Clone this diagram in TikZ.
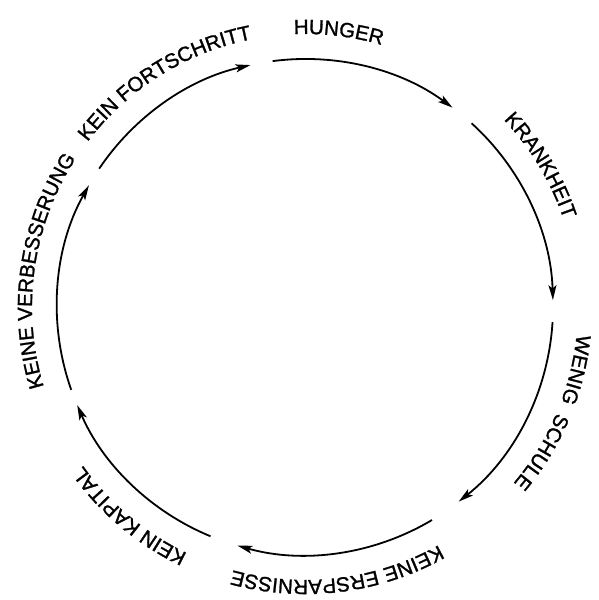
\documentclass[tikz,border=0pt]{standalone}
\usepackage{fontspec}
\setmainfont{Liberation Sans}
\newfontfamily\lblfam{Liberation Sans}[FakeBold=1.3]
\usetikzlibrary{arrows.meta,decorations.text}
\newcommand{\lblfont}{\lblfam\fontsize{20.5}{24}\selectfont}
\tikzset{
  cyclearc/.style={line width=1.8pt, -{Stealth[length=15pt,width=8pt,inset=3.5pt]}},
  cyclelabel/.style={decorate, decoration={text along path, text align=center,
    text={|\lblfont|#1}}}
}
\begin{document}
\begin{tikzpicture}
\useasboundingbox (0,0) rectangle (599pt,600pt);
\coordinate (c) at (305pt,293pt);
% arcs, clockwise
\foreach \a/\b in {97.5/53.5, 47.8/1.6, -3.5/-51.7, -59.2/-105.8, -112.4/-156.7, 199.5/150.6, 146.1/102.7}{
  \draw[cyclearc] ([shift={(\a:248pt)}]c) arc[start angle=\a, end angle=\b, radius=248pt];
}
% labels along the circle
\foreach \m/\t in {83/HUNGER, 31/KRANKHEIT, -23/WENIG{ }{ }SCHULE, -83/KEINE ERSPARNISSE, -130/KEIN KAPITAL, 172/KEINE VERBESSERUNG, 122/KEIN FORTSCHRITT}{
  \path[cyclelabel=\t] ([shift={(\m+55:273pt)}]c) arc[start angle=\m+55, end angle=\m-55, radius=273pt];
}
\end{tikzpicture}
\end{document}
